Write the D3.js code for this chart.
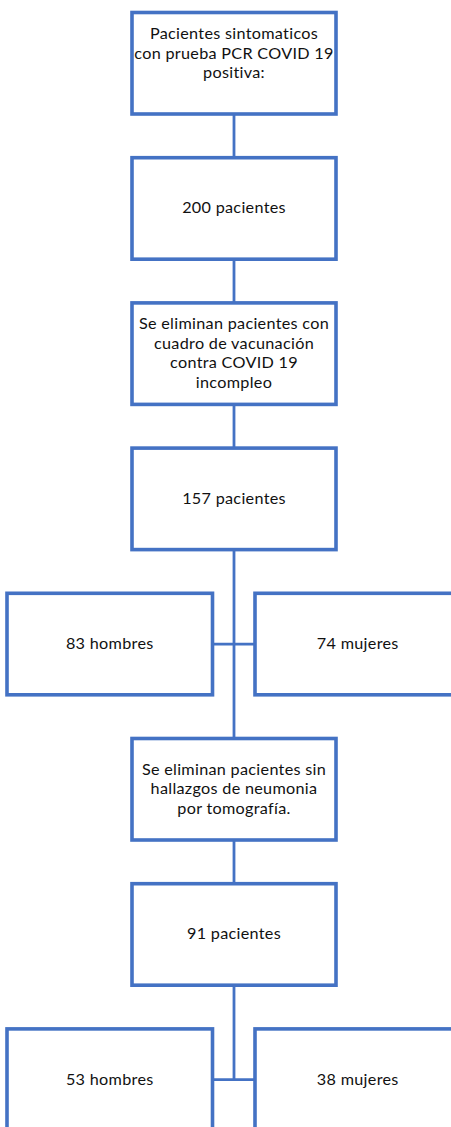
<!DOCTYPE html>
<html>
<head>
<meta charset="utf-8">
<script src="https://cdn.jsdelivr.net/npm/d3@7"></script>
<style>
  html, body { margin: 0; padding: 0; background: #fff; }
  svg { display: block; }
</style>
</head>
<body>
<svg id="chart" width="451" height="1127"></svg>
<script>
// ---- data ----
const rowKinds = ["main", "main", "main", "main", "split", "main", "main", "split"];
const mainLabels = [
  ["Pacientes sintomaticos", "con prueba PCR COVID 19", "positiva:", ""],
  ["200 pacientes"],
  ["Se eliminan pacientes con", "cuadro de vacunación", "contra COVID 19", "incompleo"],
  ["157 pacientes"],
  ["Se eliminan pacientes sin", "hallazgos de neumonia", "por tomografía."],
  ["91 pacientes"]
];
const leftLabels = ["83 hombres", "53 hombres"];
const rightLabels = ["74 mujeres", "38 mujeres"];

// ---- layout ----
const W = 451, H = 1127;
const blue = "#4472C4";
const boxH = 101.5;
const lineH = 19.5;
const fontSize = 16.2;

const svg = d3.select("#chart");
const y = d3.scaleLinear().domain([0, rowKinds.length - 1]).range([12.5, 12.5 + 7 * 145.2]);
const x = d3.scaleLinear().domain([0, 1]).range([7, 460.5]);
const cx = 234;
const mainX0 = 132, mainX1 = 336;
const leftX0 = x(0), leftX1 = 212.5;
const rightX0 = 255, rightX1 = x(1);

let mi = 0, si = 0;
const nodes = [];
rowKinds.forEach((k, i) => {
  if (k === "main") {
    nodes.push({ row: i, x0: mainX0, x1: mainX1, lines: mainLabels[mi++] });
  } else {
    nodes.push({ row: i, x0: leftX0, x1: leftX1, lines: [leftLabels[si]] });
    nodes.push({ row: i, x0: rightX0, x1: rightX1, lines: [rightLabels[si]] });
    si++;
  }
});

// connectors
const conn = svg.append("g").attr("stroke", blue).attr("stroke-width", 2.8).attr("fill", "none");
rowKinds.forEach((k, i) => {
  const bot = y(i) + boxH, mid = y(i) + boxH / 2;
  if (i < rowKinds.length - 1) {
    const start = k === "split" ? mid : bot;
    const nextK = rowKinds[i + 1];
    const end = nextK === "split" ? y(i + 1) + boxH / 2 : y(i + 1);
    conn.append("line").attr("x1", cx).attr("x2", cx).attr("y1", start).attr("y2", end);
  }
  if (k === "split") {
    conn.append("line").attr("x1", leftX1).attr("x2", rightX0).attr("y1", mid).attr("y2", mid);
  }
});

// boxes
const g = svg.append("g").selectAll("g").data(nodes).join("g");
g.append("rect")
  .attr("x", d => d.x0).attr("y", d => y(d.row))
  .attr("width", d => d.x1 - d.x0).attr("height", boxH)
  .attr("fill", "#fff").attr("stroke", blue).attr("stroke-width", 3.6);

g.each(function (d) {
  const n = d.lines.length;
  const c = y(d.row) + boxH / 2;
  const t = d3.select(this).append("text")
    .attr("text-anchor", "middle")
    .attr("font-family", "Lato, 'Open Sans', sans-serif")
    .attr("font-size", fontSize)
    .attr("letter-spacing", 0.3)
    .attr("fill", "#111");
  d.lines.forEach((ln, j) => {
    if (!ln) return;
    t.append("tspan").attr("x", (d.x0 + d.x1) / 2)
      .attr("y", c + (j - (n - 1) / 2) * lineH + 5)
      .text(ln);
  });
});
</script>
</body>
</html>
